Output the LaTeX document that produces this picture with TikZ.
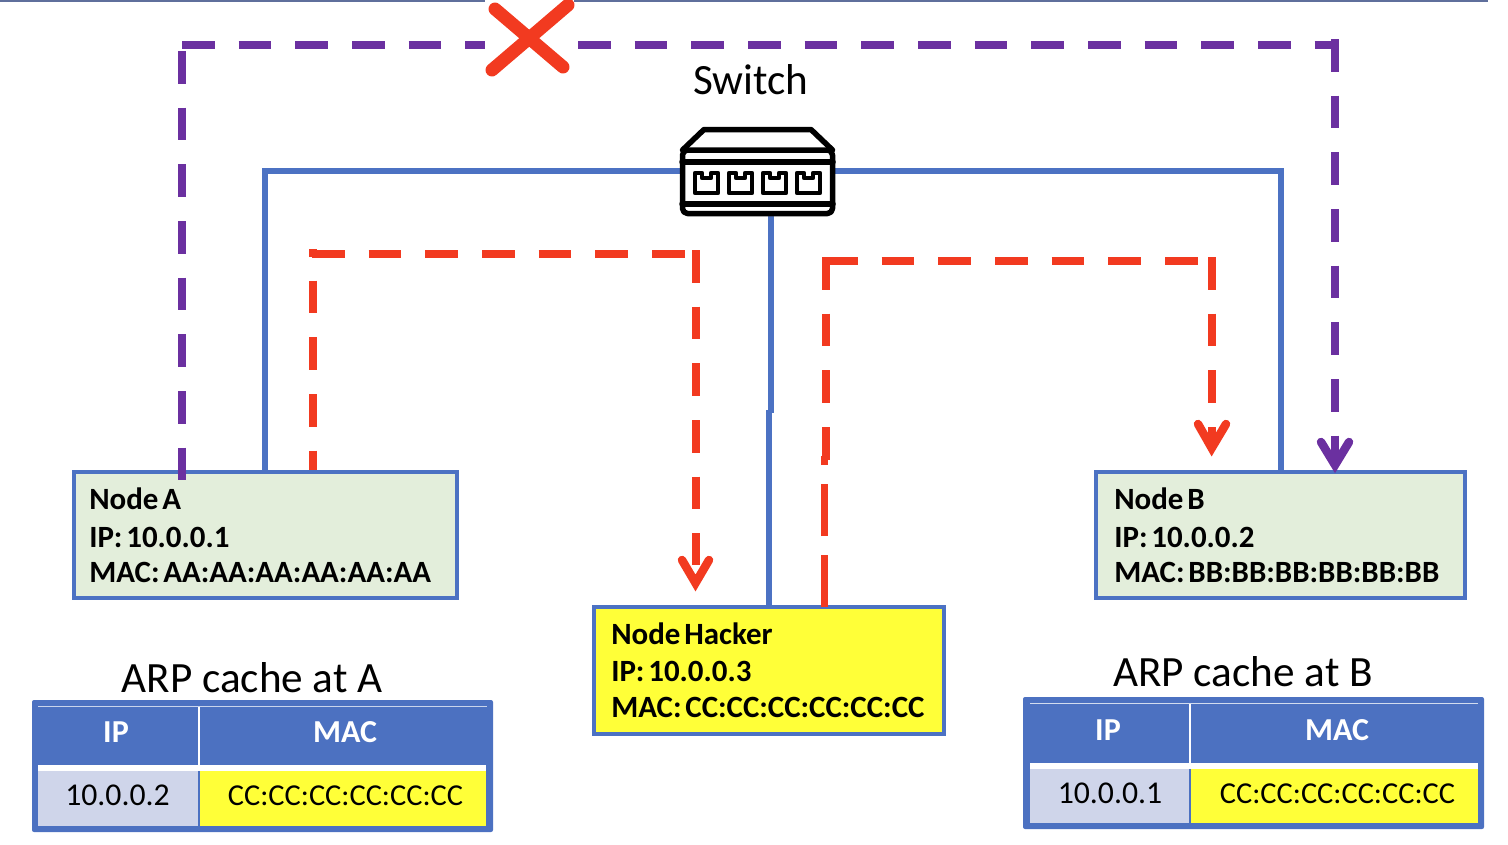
\documentclass[tikz,border=0pt]{standalone}
\usepackage{fontspec}
\setmainfont{Carlito}
\newfontfamily\boxfont[WordSpace=0.55]{Carlito}
\definecolor{lnblue}{HTML}{4C72C3}
\definecolor{tblblue}{HTML}{4C71C1}
\definecolor{rd}{HTML}{F23A20}
\definecolor{pp}{HTML}{6B30A0}
\definecolor{grn}{HTML}{E3EEDB}
\definecolor{yl}{HTML}{FFFF38}
\definecolor{gy}{HTML}{CFD5EA}
\definecolor{topl}{HTML}{5F6F9C}
\def\px{0.75pt}
\tikzset{
  x=0.75pt,y=-0.75pt,
  box/.style={draw=lnblue,line width=3.3*\px,inner sep=0pt,outer sep=0pt,anchor=north west},
  boxtext/.style={align=left,inner sep=0pt,anchor=west,font=\boxfont\fontsize{23.2}{27}\selectfont\bfseries},
  wire/.style={draw=lnblue,line width=6*\px},
  dashline/.style={line width=8*\px,dash pattern=on 32.7*\px off 23.97*\px},
  headline/.style={line width=8.5*\px,line cap=round,line join=miter},
  title/.style={font=\fontsize{32.4}{38}\selectfont,inner sep=0pt,anchor=base},
  hdr/.style={font=\fontsize{24}{28}\selectfont\bfseries,text=white,inner sep=0pt,anchor=base},
  cell/.style={inner sep=0pt,outer sep=0pt,anchor=north west},
  ipt/.style={font=\fontsize{23.8}{28}\selectfont,inner sep=0pt,anchor=base},
  mact/.style={font=\fontsize{22.8}{28}\selectfont,inner sep=0pt,anchor=base},
  icon/.style={draw=black,line width=5.5*\px,line join=round,line cap=round},
}
\begin{document}
\begin{tikzpicture}
\useasboundingbox (0,0) rectangle (1508,844);
% top rule
\draw[topl,line width=2*\px] (0,0.8) -- (485,0.8) (574,0.8) -- (1488,0.8);

% boxes
\node[box,fill=grn,minimum width=383*\px,minimum height=126*\px] (A) at (74,472) {};
\node[box,fill=grn,minimum width=369*\px,minimum height=126*\px] (B) at (1096,472) {};
\node[box,fill=yl,minimum width=350*\px,minimum height=127*\px] (H) at (594,607) {};
\node[boxtext] (Atxt) at (89,535) {Node A\\[1.5pt]IP: 10.0.0.1\\[-0.75pt]MAC: AA:AA:AA:AA:AA:AA};
\node[boxtext] (Btxt) at (1114,535) {Node B\\[1.5pt]IP: 10.0.0.2\\[-0.75pt]MAC: BB:BB:BB:BB:BB:BB};
\node[boxtext] (Htxt) at (611,670) {Node Hacker\\[0.75pt]IP: 10.0.0.3\\MAC: CC:CC:CC:CC:CC:CC};

% switch
\node[inner sep=0pt,minimum width=155*\px,minimum height=89*\px,anchor=north west] (sw) at (680,127) {};
\node[title] (swt) at (751,94) {Switch};

% anchors of the connectors
\coordinate (aw) at (265,471);
\coordinate (bw) at (1281,471);
\coordinate (hw1) at (771,413);
\coordinate (hw2) at (769,410);
\coordinate (hw3) at (769,606);
\coordinate (sws) at (771,214);
\coordinate (swl) at (682,171);
\coordinate (swr) at (833,171);

\draw[wire] (swl) -| (aw);
\draw[wire] (swr) -| (bw);
\draw[wire] (sws) -- (hw1);
\draw[wire] (hw2) -- (hw3);

% purple path, broken at the cross
\coordinate (pa) at (182,480);
\coordinate (pc0) at (182,51);
\coordinate (pc1) at (182,45);
\coordinate (px1) at (485,45);
\coordinate (px2) at (578,45);
\coordinate (pc2) at (1335,45);
\coordinate (pc3) at (1335,39);
\coordinate (pb) at (1335,465);
\draw[pp,dashline] (pc0) -- (pa);
\draw[pp,dashline] (pc1) -- (px1);
\draw[pp,dashline] (px2) -- (pc2);
\draw[pp,dashline] (pc3) -- (1335,436);
\draw[pp,line width=8*\px] (1335,436) -- (pb);
\draw[pp,headline] (1321,442) -- (pb) -- (1349,442);

% red path A -> Hacker
\coordinate (ra) at (313,470);
\coordinate (rc0) at (313,249);
\coordinate (rc1) at (312,254);
\coordinate (rc2) at (685,254);
\coordinate (rc3) at (695.5,250);
\coordinate (rc4) at (695.5,565);
\coordinate (rh) at (695.5,583);
\draw[rd,dashline,dash phase=25*\px] (rc0) -- (ra);
\draw[rd,dashline] (rc1) -- (rc2);
\draw[rd,dashline] (rc3) -- (rc4);
\draw[rd,headline] (682,560) -- (rh) -- (709,560);

% red path Hacker -> B
\coordinate (rb) at (824,607);
\coordinate (rj) at (824,456);
\coordinate (rk) at (825.5,257);
\coordinate (rl) at (825.5,461);
\coordinate (rd1) at (825,261);
\coordinate (rd2) at (1198,261);
\coordinate (rd3) at (1211.7,257);
\coordinate (rd4) at (1211.7,427);
\coordinate (rt) at (1211.7,448);
\draw[rd,line width=7*\px,dash pattern=on 52*\px off 19*\px] (rb) -- (rj);
\draw[rd,dashline] (rk) -- (rl);
\draw[rd,dashline] (rd1) -- (rd2);
\draw[rd,dashline] (rd3) -- (rd4);
\draw[rd,line width=8*\px] (rd4) -- (rt);
\draw[rd,headline] (1198,424) -- (rt) -- (1226,424);

% red cross
\draw[rd,line width=13*\px,line cap=round] (495,9) -- (563,67);
\draw[rd,line width=13*\px,line cap=round] (568,5) -- (492,70);

% switch icon
\fill[white] (680,148) -- (703,127) -- (812,127) -- (833,148) -- (833,216) -- (680,216) -- cycle;
\draw[icon] (682.5,150) -- (704,129.5) -- (811,129.5) -- (832.5,150);
\draw[icon,rounded corners=5*\px] (682.5,150) -- (682.5,213.5) -- (832.5,213.5) -- (832.5,150) -- cycle;
\draw[icon] (682,162) -- (833,162);
\draw[icon] (682,204) -- (833,204);
\foreach \xx in {695,729,763,797}{
  \draw[icon,line width=4.5*\px] (\xx,173) -- ++(7,0) -- ++(0,5) -- ++(9,0) -- ++(0,-5) -- ++(7,0) -- ++(0,20) -- ++(-23,0) -- cycle;
}

% table A
\node[title] (ta) at (252,692) {ARP cache at A};
\fill[tblblue,rounded corners=2*\px] (32,700) rectangle (493,832);
\draw[white!70!tblblue,line width=1*\px] (38,706) -- (487,706);
\draw[white,line width=2*\px] (199,707) -- (199,766);
\fill[white] (38,765) rectangle (486,771);
\node[cell,fill=gy,minimum width=160*\px,minimum height=55*\px] (ca1) at (38,771) {};
\node[cell,fill=yl,minimum width=286*\px,minimum height=55*\px] (ca2) at (200,771) {};
\node[ipt] (ca1t) at (117.5,805) {10.0.0.2};
\node[mact] (ca2t) at (345.5,805) {CC:CC:CC:CC:CC:CC};
\node[hdr] (ha1) at (116,742) {IP};
\node[hdr] (ha2) at (345,742) {MAC};

% table B
\node[title] (tb) at (1243,686) {ARP cache at B};
\fill[tblblue,rounded corners=2*\px] (1023,697) rectangle (1484,829);
\draw[white!75!tblblue,line width=1.5*\px] (1030,703.5) -- (1478,703.5);
\draw[white,line width=2*\px] (1190,704) -- (1190,764);
\fill[white] (1030,763) rectangle (1478,769);
\node[cell,fill=gy,minimum width=159*\px,minimum height=54*\px] (cb1) at (1030,769) {};
\node[cell,fill=yl,minimum width=287*\px,minimum height=54*\px] (cb2) at (1191,769) {};
\node[ipt] (cb1t) at (1110,803) {10.0.0.1};
\node[mact] (cb2t) at (1337.5,803) {CC:CC:CC:CC:CC:CC};
\node[hdr] (hb1) at (1108,740) {IP};
\node[hdr] (hb2) at (1337,740) {MAC};
\end{tikzpicture}
\end{document}
